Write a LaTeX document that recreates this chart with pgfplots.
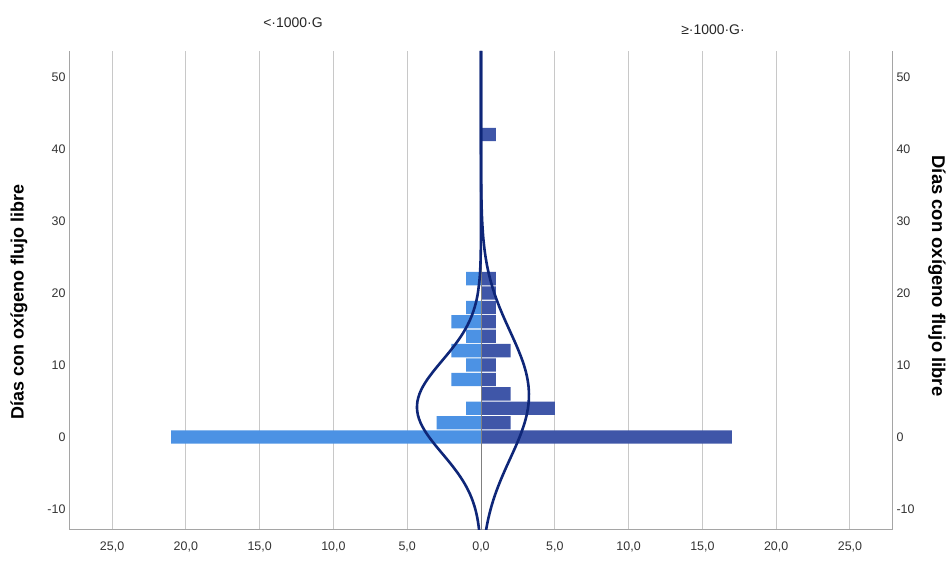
\documentclass[border=0pt]{standalone}
\usepackage{pgfplots}
\pgfplotsset{compat=1.18}
\usepackage{fontspec}
\setmainfont{Liberation Sans}
\definecolor{lbar}{RGB}{76,146,228}
\definecolor{dbar}{RGB}{63,86,168}
\definecolor{curvec}{RGB}{14,38,120}
\definecolor{gridc}{RGB}{200,200,200}
\definecolor{axc}{RGB}{165,165,165}
\begin{document}
\begin{tikzpicture}[x=1bp,y=1bp]
\path[use as bounding box] (-70,-33) rectangle (882,530);
\begin{axis}[
  at={(0,0)}, anchor=south west,
  scale only axis, width=822bp, height=479bp,
  xmin=-27.85, xmax=27.85, ymin=-12.9, ymax=53.6,
  axis x line*=bottom, axis y line*=left,
  axis line style={draw=axc, line width=1bp, -},
  xtick={-25,-20,...,25},
  xticklabels={{25,0},{20,0},{15,0},{10,0},{5,0},{0,0},{5,0},{10,0},{15,0},{20,0},{25,0}},
  ytick={-10,0,10,20,30,40,50},
  yticklabels={-10,0,10,20,30,40,50},
  major tick length=0pt,
  xmajorgrids, major grid style={draw=gridc, line width=1bp},
  tick label style={font=\fontsize{12.5}{14}\selectfont, text=black!80},
  xticklabel style={yshift=-8bp},
  yticklabel style={xshift=-1bp},
]
% left group (< 1000 G)
\addplot[xbar, bar shift=0pt, bar width=1.85, fill=lbar, draw=none]
  coordinates {(-21,0) (-3,2) (-1,4) (-2,8) (-1,10) (-2,12) (-1,14) (-2,16) (-1,18) (-1,22)};
% right group (>= 1000 G)
\addplot[xbar, bar shift=0pt, bar width=1.85, fill=dbar, draw=none]
  coordinates {(17,0) (2,2) (5,4) (2,6) (1,8) (1,10) (2,12) (1,14) (1,16) (1,18) (1,20) (1,22) (1,42)};
% centre line
\addplot[draw=black!50, line width=0.8bp] coordinates {(0,-12.9) (0,53.6)};
% normal curve, left
\addplot[curvec, line width=2.6bp, smooth] coordinates {
(-0.124,-13) (-0.186,-12) (-0.271,-11) (-0.386,-10) (-0.536,-9) (-0.728,-8) (-0.964,-7)
(-1.247,-6) (-1.575,-5) (-1.941,-4) (-2.335,-3) (-2.743,-2) (-3.145,-1) (-3.519,0)
(-3.845,1) (-4.100,2) (-4.269,3) (-4.338,4) (-4.304,5) (-4.168,6) (-3.941,7) (-3.637,8)
(-3.276,9) (-2.881,10) (-2.473,11) (-2.072,12) (-1.695,13) (-1.354,14) (-1.055,15)
(-0.803,16) (-0.597,17) (-0.433,18) (-0.306,19) (-0.212,20) (-0.094,22) (-0.038,24)
(-0.014,26) (-0.004,28) (-0.001,30) (0,35) (0,53.6)};
% normal curve, right
\addplot[curvec, line width=2.6bp, smooth] coordinates {
(0.336,-13) (0.425,-12) (0.531,-11) (0.654,-10) (0.796,-9) (0.956,-8) (1.134,-7)
(1.328,-6) (1.535,-5) (1.751,-4) (1.974,-3) (2.196,-2) (2.412,-1) (2.615,0)
(2.799,1) (2.959,2) (3.088,3) (3.181,4) (3.236,5) (3.249,6) (3.222,7) (3.153,8)
(3.048,9) (2.908,10) (2.739,11) (2.547,12) (2.339,13) (2.120,14) (1.898,15)
(1.677,16) (1.463,17) (1.260,18) (1.071,19) (0.899,20) (0.746,21) (0.610,22)
(0.493,23) (0.393,24) (0.310,25) (0.241,26) (0.185,27) (0.140,28) (0.077,30)
(0.041,32) (0.020,34) (0.0096,36) (0.0019,40) (0,45) (0,53.6)};
\end{axis}
\begin{axis}[
  at={(0,0)}, anchor=south west,
  scale only axis, width=822bp, height=479bp,
  xmin=-27.85, xmax=27.85, ymin=-12.9, ymax=53.6,
  axis x line=none, axis y line*=right,
  axis line style={draw=axc, line width=1bp, -},
  ytick={-10,0,10,20,30,40,50},
  yticklabels={-10,0,10,20,30,40,50},
  yticklabel pos=right,
  major tick length=0pt,
  tick label style={font=\fontsize{12.5}{14}\selectfont, text=black!80},
  yticklabel style={xshift=1bp},
]
\addplot[draw=none] coordinates {(0,0)};
\end{axis}
\node[rotate=90, font=\fontsize{18}{20}\selectfont\bfseries] at (-51,228) {Días con oxígeno flujo libre};
\node[rotate=-90, font=\fontsize{18.5}{20}\selectfont\bfseries] at (867,254) {Días con oxígeno flujo libre};
\node[font=\fontsize{14}{16}\selectfont, text=black!85] at (223,507) {<·1000·G};
\node[font=\fontsize{14}{16}\selectfont, text=black!85] at (643,500) {≥·1000·G·};
\end{tikzpicture}
\end{document}
